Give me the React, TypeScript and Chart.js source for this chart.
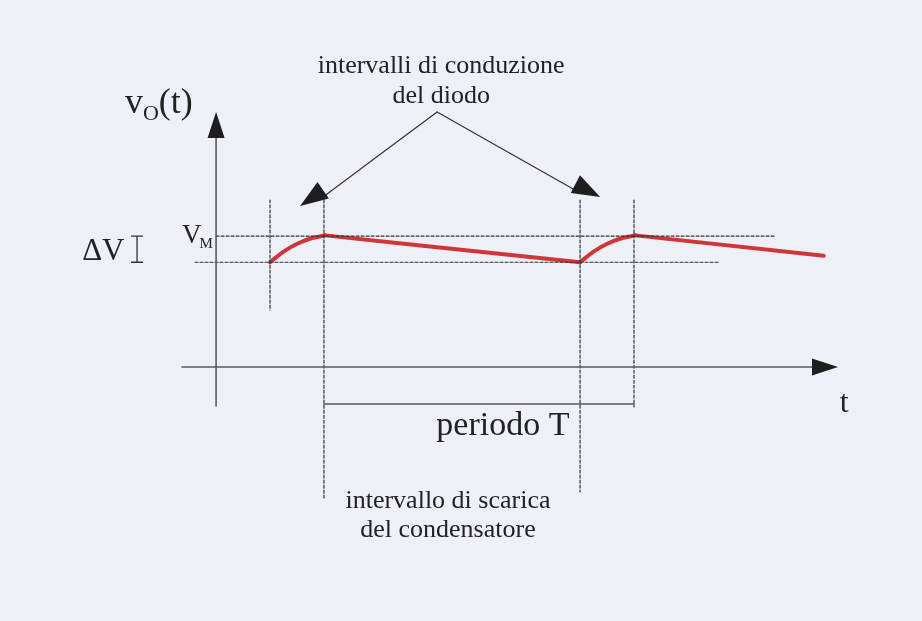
import { useEffect, useRef } from 'react';
import { Chart, registerables } from 'chart.js';

Chart.register(...registerables);

// Output voltage of a rectifier with smoothing capacitor (t in ms, v in V)
const charge1T = [1.74, 2.2, 2.65, 3.1, 3.52];
const charge1V = [8.0, 8.85, 9.45, 9.85, 10.05];
const decay1T = [3.52, 11.74];
const decay1V = [10.05, 8.0];
const charge2T = [11.74, 12.2, 12.65, 13.1, 13.52];
const charge2V = [8.0, 8.85, 9.45, 9.85, 10.05];
const decay2T = [13.52, 19.6];
const decay2V = [10.05, 8.5];

// Reference levels and instants
const levelVM = 10;
const levelLow = 8;
const conductionStart = [1.74, 11.74];
const conductionEnd = [3.48, 13.48];

// Labels
const titleLines = ['intervalli di conduzione', 'del diodo'];
const dischargeLines = ['intervallo di scarica', 'del condensatore'];
const periodLabel = 'periodo T';
const timeLabel = 't';
const deltaLabel = 'ΔV';

// Visible window of the drawing
const VIEW = { tMin: -6.97, tMax: 22.77, vMin: -19.39, vMax: 28.02 };

const pts = (xs: number[], ys: number[]) => xs.map((x, i) => ({ x, y: ys[i] }));
const seg = (x1: number, y1: number, x2: number, y2: number) => [
  { x: x1, y: y1 },
  { x: x2, y: y2 },
];

const RED = '#d13636';
const AXIS = '#5a5a5a';
const DASH = '#333333';
const INK = '#222222';
const SERIF = '"Liberation Serif", "Times New Roman", serif';

const line = (data: any[], color: string, width: number, dash: number[] = []) => ({
  data,
  borderColor: color,
  borderWidth: width,
  borderDash: dash,
  pointRadius: 0,
  fill: false,
  cubicInterpolationMode: 'monotone' as const,
  borderCapStyle: 'round' as const,
});

// Annotation geometry (data units)
const apex = { x: 7.13, y: 19.47 };
const tipLeft = { x: 2.71, y: 12.29 };
const tipRight = { x: 12.39, y: 12.98 };

function arrowHead(ctx: CanvasRenderingContext2D, fx: number, fy: number, tx: number, ty: number, len: number, half: number) {
  const a = Math.atan2(ty - fy, tx - fx);
  const bx = tx - len * Math.cos(a);
  const by = ty - len * Math.sin(a);
  const nx = -Math.sin(a) * half;
  const ny = Math.cos(a) * half;
  ctx.beginPath();
  ctx.moveTo(tx, ty);
  ctx.lineTo(bx + nx, by + ny);
  ctx.lineTo(bx - nx, by - ny);
  ctx.closePath();
  ctx.fill();
}

const decor = {
  id: 'decor',
  afterDatasetsDraw(chart: any) {
    const { ctx } = chart;
    const xs = chart.scales.x;
    const ys = chart.scales.y;
    const px = (t: number) => xs.getPixelForValue(t);
    const py = (v: number) => ys.getPixelForValue(v);
    ctx.save();
    ctx.fillStyle = '#1e1e1e';

    // axis arrowheads
    arrowHead(ctx, px(0), py(0), px(0), py(19.47), 26, 8.5);
    arrowHead(ctx, px(0), py(0), px(20.06), py(0), 26, 8.5);

    // annotation arrowheads
    arrowHead(ctx, px(apex.x), py(apex.y), px(tipLeft.x), py(tipLeft.y), 28, 10);
    arrowHead(ctx, px(apex.x), py(apex.y), px(tipRight.x), py(tipRight.y), 28, 10);

    // ΔV bracket
    ctx.strokeStyle = '#333';
    ctx.lineWidth = 1.3;
    const bx = px(-2.55);
    ctx.beginPath();
    ctx.moveTo(bx, py(levelVM));
    ctx.lineTo(bx, py(levelLow));
    ctx.moveTo(bx - 6, py(levelVM));
    ctx.lineTo(bx + 6, py(levelVM));
    ctx.moveTo(bx - 6, py(levelLow));
    ctx.lineTo(bx + 6, py(levelLow));
    ctx.stroke();

    ctx.fillStyle = INK;
    ctx.textBaseline = 'alphabetic';

    // centred text blocks
    ctx.textAlign = 'center';
    ctx.font = `26px ${SERIF}`;
    ctx.fillText(titleLines[0], px(7.26), py(22.44));
    ctx.fillText(titleLines[1], px(7.26), py(20.15));
    ctx.fillText(dischargeLines[0], px(7.48), py(-10.76));
    ctx.fillText(dischargeLines[1], px(7.48), py(-12.98));
    ctx.font = `34px ${SERIF}`;
    ctx.fillText(periodLabel, px(9.25), py(-5.19));
    ctx.font = `32px ${SERIF}`;
    ctx.fillText(timeLabel, px(20.26), py(-3.44));

    // left-side labels
    ctx.textAlign = 'left';
    ctx.font = `31px ${SERIF}`;
    ctx.fillText(deltaLabel, px(-4.32), py(8.17));

    // V_M
    let x = px(-1.1);
    ctx.font = `27px ${SERIF}`;
    ctx.fillText('V', x, py(9.47));
    x += ctx.measureText('V').width - 2;
    ctx.font = `15px ${SERIF}`;
    ctx.fillText('M', x, py(9.47) + 5);

    // v_O(t)
    x = px(-2.94);
    const base = py(19.39);
    ctx.font = `36px ${SERIF}`;
    ctx.fillText('v', x, base);
    x += ctx.measureText('v').width;
    ctx.font = `22px ${SERIF}`;
    ctx.fillText('O', x, base + 7);
    x += ctx.measureText('O').width;
    ctx.font = `36px ${SERIF}`;
    ctx.fillText('(t)', x, base);

    ctx.restore();
  },
};

export default function App() {
  const ref = useRef<HTMLCanvasElement>(null);

  useEffect(() => {
    if (!ref.current) return;
    const dashed = [3, 2];
    const chart = new Chart(ref.current, {
      type: 'line',
      data: {
        datasets: [
          // axes
          line(seg(0, -2.98, 0, 17.6), AXIS, 1.6),
          line(seg(-1.1, 0, 19.3, 0), AXIS, 1.6),
          // level guides
          line(seg(0, levelVM, 18.03, levelVM), DASH, 1.2, dashed),
          line(seg(-0.68, levelLow, 16.19, levelLow), DASH, 1.2, dashed),
          // instant guides
          line(seg(conductionStart[0], 12.75, conductionStart[0], 4.35), DASH, 1.2, dashed),
          line(seg(conductionEnd[0], 12.75, conductionEnd[0], -10.0), DASH, 1.2, dashed),
          line(seg(conductionStart[1], 12.75, conductionStart[1], -9.54), DASH, 1.2, dashed),
          line(seg(conductionEnd[1], 12.75, conductionEnd[1], -3.05), DASH, 1.2, dashed),
          // period bracket
          line(seg(conductionEnd[0], -2.82, conductionEnd[1], -2.82), AXIS, 1.5),
          // annotation leaders
          line(seg(apex.x, apex.y, tipLeft.x + 0.6, tipLeft.y + 0.45), '#333333', 1.2),
          line(seg(apex.x, apex.y, tipRight.x - 0.6, tipRight.y + 0.25), '#333333', 1.2),
          // waveform
          line(pts(charge1T, charge1V), RED, 4),
          line(pts(decay1T, decay1V), RED, 4),
          line(pts(charge2T, charge2V), RED, 4),
          line(pts(decay2T, decay2V), RED, 4),
        ],
      },
      options: {
        animation: false,
        responsive: false,
        parsing: true,
        layout: { padding: 0 },
        plugins: { legend: { display: false }, tooltip: { enabled: false } },
        scales: {
          x: { type: 'linear', min: VIEW.tMin, max: VIEW.tMax, display: false },
          y: { type: 'linear', min: VIEW.vMin, max: VIEW.vMax, display: false },
        },
      },
      plugins: [decor],
    });
    return () => chart.destroy();
  }, []);

  return (
    <div style={{ position: 'fixed', left: 0, top: 0, width: 922, height: 621, background: '#eef0f8' }}>
      <canvas ref={ref} width={922} height={621} />
    </div>
  );
}
